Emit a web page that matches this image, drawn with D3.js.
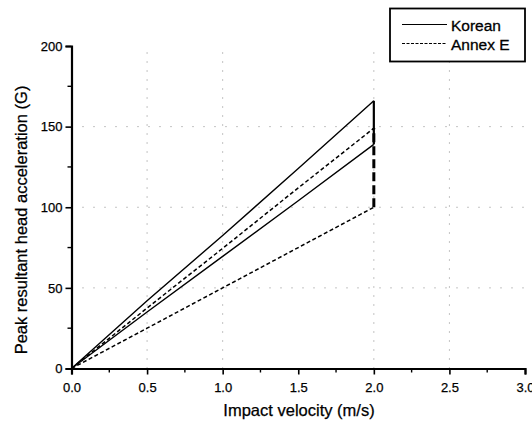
<!DOCTYPE html>
<html>
<head>
<meta charset="utf-8">
<script src="https://cdn.jsdelivr.net/npm/d3@7"></script>
<style>
  html, body { margin: 0; padding: 0; background: #fff; }
  svg { display: block; font-family: "Liberation Sans", Arial, sans-serif; }
</style>
</head>
<body>
<svg id="chart" width="532" height="425"></svg>
<script>
// ---- data ----
const velocity = [0, 0.5, 1.0, 1.5, 2.0];
const koreanUpper = [0, 42, 82.5, 124, 166];
const koreanLower = [0, 35, 69.5, 104, 139];
const annexUpper = [0, 37.5, 74.5, 112, 149];
const annexLower = [0, 25, 50, 75, 100];
const xTicks = [0, 0.5, 1.0, 1.5, 2.0, 2.5, 3.0];
const yTicks = [0, 50, 100, 150, 200];
const seriesNames = ["Korean", "Annex E"];

const svg = d3.select("#chart");
const x = d3.scaleLinear().domain([0, 3]).range([71.5, 525]);
const y = d3.scaleLinear().domain([0, 200]).range([368.5, 46]);

// grid (sparse dotted, like the scanned original)
const grid = svg.append("g");
grid.selectAll("line.vx").data([0.5, 1.0, 2.0, 2.5]).join("line")
  .attr("x1", d => x(d)).attr("x2", d => x(d))
  .attr("y1", y(0)).attr("y2", y(200))
  .attr("stroke", "#888").attr("stroke-width", 1)
  .attr("stroke-dasharray", "1,8");
grid.selectAll("line.hy").data([50, 100, 150]).join("line")
  .attr("x1", x(0)).attr("x2", x(3))
  .attr("y1", d => y(d)).attr("y2", d => y(d))
  .attr("stroke", "#888").attr("stroke-width", 1)
  .attr("stroke-dasharray", "1,10");

// axes
const xAxis = d3.axisBottom(x).tickValues(xTicks).tickFormat(d3.format(".1f")).tickSize(6).tickPadding(8);
const yAxis = d3.axisLeft(y).tickValues(yTicks).tickFormat(d3.format("d")).tickSize(6).tickPadding(3);

const gx = svg.append("g").attr("transform", `translate(0,${y(0)})`).call(xAxis);
const gy = svg.append("g").attr("transform", `translate(${x(0)},0)`).call(yAxis);
[gx, gy].forEach(g => {
  g.select(".domain").attr("stroke", "#000").attr("stroke-width", 2.2);
  g.selectAll(".tick line").attr("stroke", "#000").attr("stroke-width", 1.6);
  g.selectAll(".tick text").attr("fill", "#000").attr("font-size", 13)
    .attr("font-family", "'Liberation Sans', Arial, sans-serif")
    .attr("stroke", "#000").attr("stroke-width", 0.25);
});

// minor ticks
svg.append("g").selectAll("line").data(d3.range(0.25, 3, 0.5)).join("line")
  .attr("x1", d => x(d)).attr("x2", d => x(d))
  .attr("y1", y(0)).attr("y2", y(0) + 4)
  .attr("stroke", "#000").attr("stroke-width", 1.4);
svg.append("g").selectAll("line").data(d3.range(25, 200, 50)).join("line")
  .attr("x1", x(0) - 4).attr("x2", x(0))
  .attr("y1", d => y(d)).attr("y2", d => y(d))
  .attr("stroke", "#000").attr("stroke-width", 1.4);

// axis titles
svg.append("text")
  .attr("x", 299).attr("y", 416)
  .attr("text-anchor", "middle").attr("font-size", 16.5).attr("fill", "#000")
  .attr("stroke", "#000").attr("stroke-width", 0.25)
  .text("Impact velocity (m/s)");
svg.append("text")
  .attr("transform", "translate(27,220) rotate(-90)")
  .attr("text-anchor", "middle").attr("font-size", 16.5).attr("fill", "#000")
  .attr("stroke", "#000").attr("stroke-width", 0.25)
  .text("Peak resultant head acceleration (G)");

// lines
const line = d3.line().x(d => x(d[0])).y(d => y(d[1]));
const mk = arr => velocity.map((v, i) => [v, arr[i]]);
const dashed = "4,2.5";

svg.append("path").datum(mk(koreanUpper)).attr("d", line)
  .attr("fill", "none").attr("stroke", "#000").attr("stroke-width", 1.4);
svg.append("path").datum(mk(koreanLower)).attr("d", line)
  .attr("fill", "none").attr("stroke", "#000").attr("stroke-width", 1.4);
svg.append("path").datum(mk(annexUpper)).attr("d", line)
  .attr("fill", "none").attr("stroke", "#000").attr("stroke-width", 1.5)
  .attr("stroke-dasharray", dashed);
svg.append("path").datum(mk(annexLower)).attr("d", line)
  .attr("fill", "none").attr("stroke", "#000").attr("stroke-width", 1.5)
  .attr("stroke-dasharray", dashed);

// vertical closing segments at the last velocity
const last = velocity.length - 1;
svg.append("path")
  .datum([[velocity[last], koreanLower[last]], [velocity[last], koreanUpper[last]]])
  .attr("d", line).attr("fill", "none").attr("stroke", "#000").attr("stroke-width", 2.2);
svg.append("path")
  .datum([[velocity[last], annexLower[last]], [velocity[last], annexUpper[last]]])
  .attr("d", line).attr("fill", "none").attr("stroke", "#000").attr("stroke-width", 3)
  .attr("stroke-dasharray", "9,4");

// legend
const lg = svg.append("g");
lg.append("rect").attr("x", 390).attr("y", 8.5).attr("width", 135).attr("height", 53)
  .attr("fill", "#fff").attr("stroke", "#000").attr("stroke-width", 1.8);
seriesNames.forEach((name, i) => {
  const ly = 24.5 + i * 19;
  lg.append("line").attr("x1", 402).attr("x2", 447).attr("y1", ly).attr("y2", ly)
    .attr("stroke", "#000").attr("stroke-width", 1.2)
    .attr("stroke-dasharray", i === 0 ? null : "3,1.5");
  lg.append("text").attr("x", 451).attr("y", ly + 6)
    .attr("font-size", 15.5).attr("fill", "#000")
    .attr("stroke", "#000").attr("stroke-width", 0.3)
    .text(name);
});
</script>
</body>
</html>
